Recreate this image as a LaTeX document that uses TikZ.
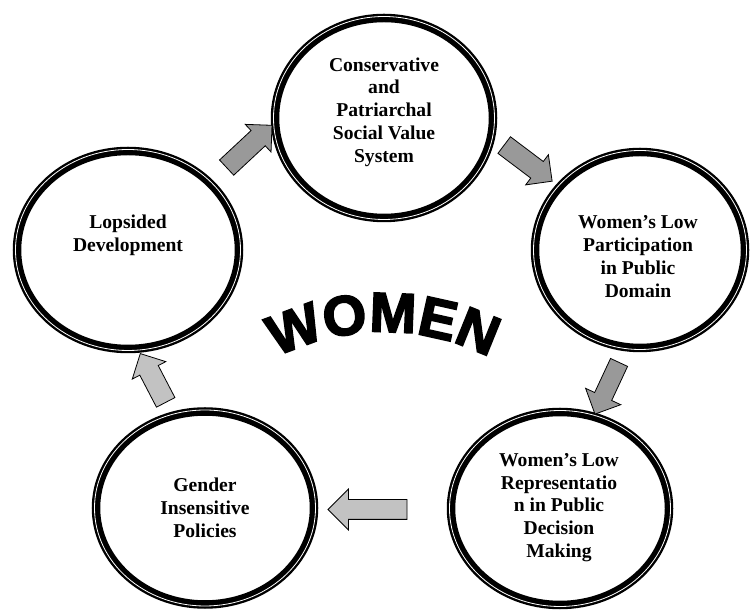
\documentclass[tikz,border=0pt]{standalone}
\usepackage{fontspec}
\setmainfont{Liberation Serif}
\newfontfamily\womenfont{Liberation Sans}[FakeBold=3]
\usetikzlibrary{shapes.geometric,shapes.arrows,decorations.text}
\definecolor{arrowdark}{gray}{0.6}
\definecolor{arrowlight}{gray}{0.76}
\newcommand{\womenstyle}{\womenfont\bfseries\fontsize{56bp}{56bp}\selectfont}
\begin{document}
\begin{tikzpicture}[x=1bp, y=1bp,
  ring/.style={ellipse, draw, line width=8.5bp, inner sep=0pt},
  gapline/.style={white, line width=0.8bp},
  circletext/.style={align=center, font=\bfseries\fontsize{19.6bp}{22.8bp}\selectfont},
  blockarrow/.style={single arrow, draw, line width=0.8bp, inner xsep=0pt, inner ysep=10bp,
    single arrow head extend=8.5bp, single arrow tip angle=90, minimum height=#1bp}]
\useasboundingbox (0,0) rectangle (751,610);
\node[ring, minimum width=218bp, minimum height=200bp] (values) at (384,492) {};
\node[ring, minimum width=210bp, minimum height=196bp] (particip) at (640,360) {};
\node[ring, minimum width=218bp, minimum height=193bp] (represent) at (560,101.5) {};
\node[ring, minimum width=218bp, minimum height=193bp] (policies) at (205,102) {};
\node[ring, minimum width=222bp, minimum height=198bp] (lopsided) at (128,360) {};
\foreach \n/\rx/\ry in {values/113/104, particip/109/102, represent/113/100.5, policies/113/100.5, lopsided/115/103}
  \draw[gapline] (\n.center) ellipse [x radius=\rx bp-2.5bp, y radius=\ry bp-2.5bp];
\node[circletext] (valuestext) at ([yshift=6bp]values.center) {Conservative\\and\\Patriarchal\\Social Value\\System};
\node[circletext] (participtext) at ([xshift=-2bp, yshift=-6.5bp]particip.center) {Women’s Low\\Participation\\in Public\\Domain};
\node[circletext] (representtext) at ([xshift=-1bp, yshift=1bp]represent.center) {Women’s Low\\Representatio\\n in Public\\Decision\\Making};
\node[circletext] (policiestext) at (policies.center) {Gender\\Insensitive\\Policies};
\node[circletext] (lopsidedtext) at ([yshift=15bp]lopsided.center) {Lopsided\\Development};
\node[blockarrow=62, fill=arrowdark, rotate=43] (arrowa) at (245.5,460) {};
\node[blockarrow=60, fill=arrowdark, rotate=-37] (arrowb) at (524,450) {};
\node[blockarrow=57, fill=arrowdark, rotate=-115, inner ysep=9bp, single arrow head extend=10bp] (arrowc) at (609,226) {};
\node[blockarrow=79, fill=arrowlight, rotate=180, inner ysep=9.5bp, single arrow head extend=10.5bp] (arrowd) at (372.5,100.5) {};
\node[blockarrow=55, fill=arrowlight, rotate=117.5] (arrowe) at (155.4,227.4) {};
\coordinate (arch) at (383,43);
\path[decorate, decoration={text along path, text align=center, text={|\womenstyle|WOMEN}}]
  (arch) ++(150:235bp) arc[start angle=150, end angle=30, radius=235bp];
\end{tikzpicture}
\end{document}
